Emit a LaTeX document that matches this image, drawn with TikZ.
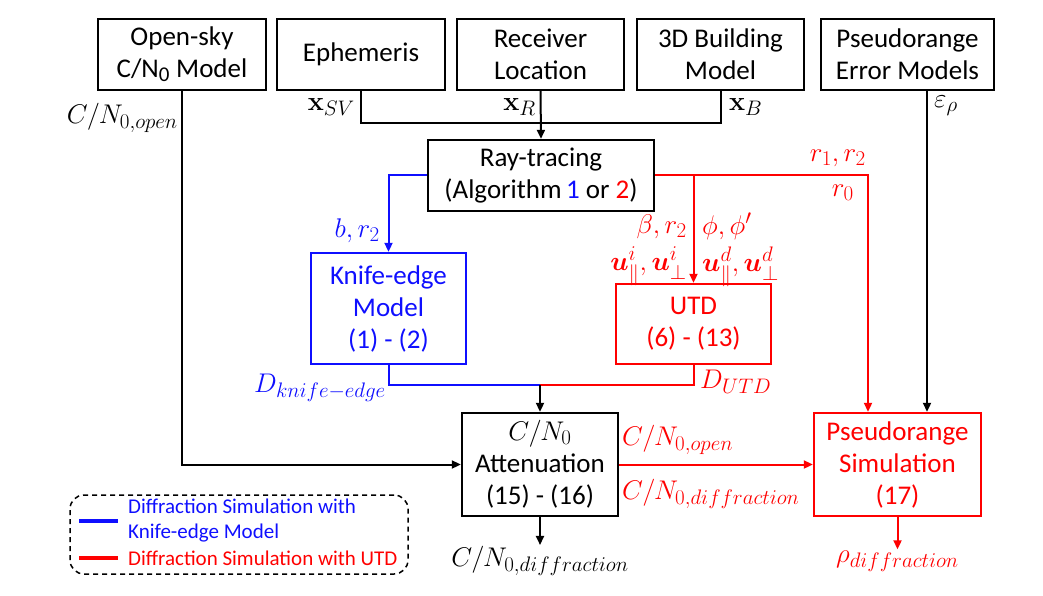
\documentclass[tikz,border=0pt]{standalone}
\usepackage{fix-cm}
\usepackage{amsmath}
\usepackage{bm}
\usepackage[no-math]{fontspec}
\setmainfont{Carlito}
\usetikzlibrary{arrows.meta}
\DeclareMathSizes{27}{27}{21}{16}
\definecolor{cblue}{RGB}{15,15,255}
\definecolor{cred}{RGB}{255,0,0}
\newcommand{\boxfont}{\fontsize{27}{32}\selectfont}
\newcommand{\mlabfont}{\fontsize{27}{30}\selectfont}
\newcommand{\legfont}{\fontsize{21}{25}\selectfont}
\begin{document}
\begin{tikzpicture}[x=1pt,y=-1pt,
  box/.style={draw, line width=2.4pt, align=center, font=\boxfont, inner sep=2pt},
  conn/.style={line width=2pt},
  arr/.style={conn, -{Triangle[length=9pt,width=8pt]}},
  lab/.style={inner sep=1pt, font=\mlabfont}]
\useasboundingbox (0,0) rectangle (1043,596);

% boxes
\node[box, minimum width=168pt, minimum height=71pt] (open) at (182,54.5) {Open-sky\\C/N\textsubscript{0} Model};
\node[box, minimum width=168pt, minimum height=71pt] (eph) at (361,54.5) {Ephemeris};
\node[box, minimum width=167pt, minimum height=71pt] (rec) at (540.5,54.5) {Receiver\\Location};
\node[box, minimum width=167pt, minimum height=71pt] (bld) at (720.5,54.5) {3D Building\\Model};
\node[box, minimum width=173pt, minimum height=71pt] (perr) at (907.5,54.5) {Pseudorange\\Error Models};
\node[box, minimum width=226pt, minimum height=71pt] (ray) at (541,175.5) {Ray-tracing\\(Algorithm\,\textcolor{cblue}{1} or \textcolor{cred}{2})};
\node[box, draw=cblue, text=cblue, minimum width=155pt, minimum height=111pt] (knife) at (388.5,308.5) {Knife-edge\\Model\\(1) - (2)};
\node[box, draw=cred, text=cred, minimum width=155pt, minimum height=80pt] (utd) at (693.5,324) {UTD\\(6) - (13)};
\node[box, minimum width=156pt, minimum height=103pt] (att) at (540,464.5) {$C/N_0$\\Attenuation\\(15) - (16)};
\node[box, draw=cred, text=cred, minimum width=167pt, minimum height=103pt] (psim) at (897.5,464.5) {Pseudorange\\Simulation\\(17)};

% coordinates
\coordinate (pe) at (927,0);
\coordinate (rx) at (868,0);
\coordinate (jb) at (540,385);

% connectors
\draw[arr] (open.south) |- (att.west);
\draw[conn] (eph.south) -- ++(0,32) -| (bld.south);
\draw[arr] (rec.south) -- (ray.north);
\draw[arr] (perr.south -| pe) -- (psim.north -| pe);
\draw[arr, cblue] (ray.west) -| (knife.north);
\draw[arr, cred] (ray.east) -| (psim.north -| rx);
\draw[arr, cred] (ray.east -| utd.north) -- (utd.north);
\draw[conn, cblue] (knife.south) |- (jb);
\draw[conn, cred] (utd.south) |- (jb);
\draw[arr] (jb) -- (att.north);
\draw[arr, cred] (att.east) -- (psim.west);

% output labels
\node[lab] (cnd) at (540,561) {$C/N_{0,diffraction}$};
\draw[arr] (att.south) -- (cnd.north);
\node[lab, text=cred] (rho) at (897.5,561) {$\rho_{diffraction}$};
\draw[arr, cred] (psim.south) -- (rho.north);

% edge labels
\node[lab, anchor=east] (lopen) at (179,118) {$C/N_{0,open}$};
\node[lab, anchor=east] (lxsv) at (356,107) {$\mathbf{x}_{SV}$};
\node[lab, anchor=east] (lxr) at (537,107) {$\mathbf{x}_{R}$};
\node[lab, anchor=west] (lxb) at (728,107) {$\mathbf{x}_{B}$};
\node[lab, anchor=west] (leps) at (933,106) {$\varepsilon_{\rho}$};
\node[lab, anchor=east, text=cred] (lr12) at (867,158) {$r_1,r_2$};
\node[lab, anchor=east, text=cred] (lr0) at (855,193) {$r_0$};
\node[lab, anchor=east, text=cblue] (lbr) at (381,231) {$b,r_2$};
\node[lab, anchor=east, align=right, text=cred, inner sep=0pt] (lbeta) at (687,250)
  {$\beta,r_2$\\[7pt]$\bm{u}_{\parallel}^{i},\bm{u}_{\perp}^{i}$};
\node[lab, anchor=west, align=left, text=cred, inner sep=0pt] (lphi) at (702,250)
  {$\phi,\phi'$\\[7pt]$\bm{u}_{\parallel}^{d},\bm{u}_{\perp}^{d}$};
\node[lab, anchor=east, text=cblue] (ldk) at (387,388) {$D_{knife-edge}$};
\node[lab, anchor=west, text=cred] (ldu) at (699,382) {$D_{UTD}$};
\node[lab, anchor=west, text=cred] (lcno) at (621,440) {$C/N_{0,open}$};
\node[lab, anchor=west, text=cred] (lcnd) at (621,494) {$C/N_{0,diffraction}$};

% legend
\node[draw, dashed, dash pattern=on 5pt off 4pt, line width=1.5pt, rounded corners=14pt,
      minimum width=338pt, minimum height=79pt, inner sep=0pt] (legend) at (239,534.5) {};
\coordinate (lb1) at (79,521);
\coordinate (lb2) at (118,521);
\coordinate (lr1) at (79,558);
\coordinate (lr2) at (118,558);
\draw[cblue, line width=3.5pt] (lb1) -- (lb2);
\draw[cred, line width=3.5pt] (lr1) -- (lr2);
\node[anchor=west, align=left, font=\legfont, text=cblue, inner sep=0pt] (legb) at (128,520.5) {Diffraction Simulation with\\Knife-edge Model};
\node[anchor=west, font=\legfont, text=cred, inner sep=0pt] (legr) at (128,558) {Diffraction Simulation with UTD};
\end{tikzpicture}
\end{document}
